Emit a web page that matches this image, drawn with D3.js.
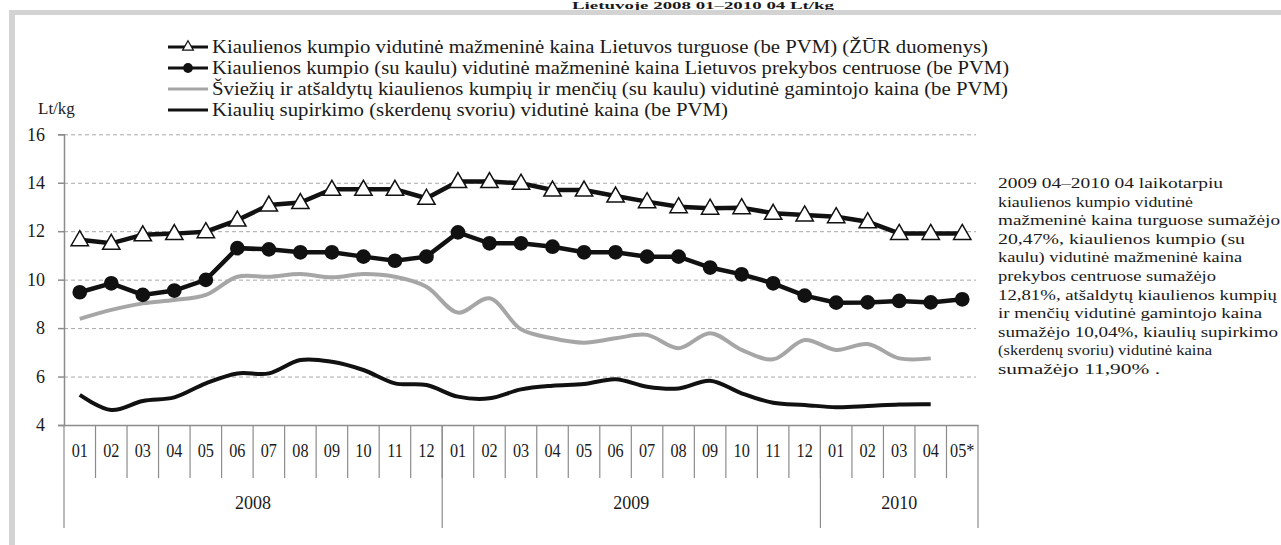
<!DOCTYPE html>
<html>
<head>
<meta charset="utf-8">
<script src="https://cdn.jsdelivr.net/npm/d3@7"></script>
<style>
  body { margin: 0; background: #fff; }
  svg { display: block; }
  svg text { font-family: "Liberation Serif", "Times New Roman", serif; }
</style>
</head>
<body>
<svg width="1281" height="545"></svg>
<script>
// month categories (2008 01 - 2010 05*)
const months = ["01","02","03","04","05","06","07","08","09","10","11","12",
                "01","02","03","04","05","06","07","08","09","10","11","12",
                "01","02","03","04","05*"];
const yearLabels = ["2008", "2009", "2010"];
const yearMonths = [12, 12, 5];
const yTicks = [4, 6, 8, 10, 12, 14, 16];

// Lt/kg
const turgus = [11.65, 11.5, 11.85, 11.9, 11.98, 12.46, 13.08, 13.18, 13.73, 13.73, 13.73, 13.36,
                14.05, 14.05, 13.98, 13.7, 13.7, 13.45, 13.22, 13.01, 12.95, 12.97, 12.74, 12.67,
                12.6, 12.39, 11.91, 11.91, 11.91];
const centrai = [9.48, 9.85, 9.37, 9.55, 9.99, 11.3, 11.25, 11.13, 11.13, 10.95, 10.78, 10.95,
                 11.95, 11.5, 11.5, 11.36, 11.13, 11.13, 10.95, 10.95, 10.5, 10.22, 9.85, 9.34,
                 9.05, 9.06, 9.12, 9.06, 9.19];
const gamintojo = [8.38, 8.75, 9.02, 9.16, 9.37, 10.12, 10.12, 10.23, 10.1, 10.23, 10.12, 9.71,
                   8.64, 9.23, 7.95, 7.58, 7.4, 7.58, 7.72, 7.17, 7.79, 7.1, 6.71, 7.51,
                   7.1, 7.34, 6.75, 6.75];
const supirkimo = [5.24, 4.62, 4.99, 5.14, 5.72, 6.13, 6.13, 6.68, 6.61, 6.27, 5.72, 5.65,
                   5.17, 5.1, 5.47, 5.62, 5.69, 5.89, 5.58, 5.51, 5.83, 5.31, 4.92, 4.83,
                   4.73, 4.78, 4.85, 4.86];

const legendLabels = [
  "Kiaulienos kumpio vidutinė mažmeninė kaina Lietuvos turguose (be PVM) (ŽŪR duomenys)",
  "Kiaulienos kumpio (su kaulu) vidutinė mažmeninė  kaina Lietuvos prekybos centruose (be PVM)",
  "Šviežių ir atšaldytų kiaulienos kumpių ir menčių (su kaulu) vidutinė gamintojo kaina (be PVM)",
  "Kiaulių supirkimo (skerdenų svoriu) vidutinė kaina (be PVM)"
];
const legendWidths = [776, 797, 796, 516];

const noteLines = [
  "2009 04–2010  04 laikotarpiu",
  "kiaulienos kumpio vidutinė",
  "mažmeninė kaina  turguose sumažėjo",
  "20,47%,  kiaulienos kumpio (su",
  "kaulu) vidutinė mažmeninė kaina",
  "prekybos centruose sumažėjo",
  "12,81%, atšaldytų kiaulienos kumpių",
  "ir menčių vidutinė gamintojo kaina",
  "sumažėjo 10,04%,   kiaulių supirkimo",
  "(skerdenų svoriu) vidutinė kaina",
  "sumažėjo 11,90% ."
];
const noteWidths = [225, 195, 282, 247, 244, 218, 279, 264, 280, 214, 162];

const svg = d3.select("svg");
const plotLeft = 64, plotRight = 978, plotTop = 134.3, plotBottom = 425;
const ink = "#1a1a1a", axisGrey = "#8c8c8c";

const x = d3.scaleBand().domain(d3.range(months.length)).range([plotLeft, plotRight]);
const y = d3.scaleLinear().domain([4, 16]).range([plotBottom, plotTop]);
const cx = (d, i) => x(i) + x.bandwidth() / 2;

// title (sits above the grey frame) and the frame itself
svg.append("text")
    .attr("x", 703).attr("y", 8.5)
    .attr("text-anchor", "middle")
    .attr("font-size", 11).attr("font-weight", "bold").attr("fill", ink)
    .attr("textLength", 262).attr("lengthAdjust", "spacingAndGlyphs")
    .text("Lietuvoje 2008 01–2010 04 Lt/kg");
svg.append("rect").attr("x", 9).attr("y", 10).attr("width", 1272).attr("height", 5).attr("fill", "#d3d3d3");
svg.append("rect").attr("x", 9).attr("y", 10).attr("width", 6).attr("height", 535).attr("fill", "#d3d3d3");

// gridlines
const grid = svg.append("g")
    .attr("transform", `translate(${plotLeft},0)`)
    .call(d3.axisLeft(y).tickValues(yTicks.slice(1)).tickSize(-(plotRight - plotLeft - 2)).tickFormat(""));
grid.select(".domain").remove();
grid.selectAll("line").attr("stroke", "#a8a8a8").attr("stroke-dasharray", "4,3");

// y axis
const yAxis = svg.append("g")
    .attr("transform", `translate(${plotLeft},0)`)
    .call(d3.axisLeft(y).tickValues(yTicks).tickSize(6).tickPadding(13));
yAxis.attr("font-family", null);
yAxis.select(".domain").attr("stroke", axisGrey).attr("stroke-width", 1.5);
yAxis.selectAll("line").attr("stroke", axisGrey).attr("stroke-width", 1.5);
yAxis.selectAll("text").attr("font-size", 18).attr("fill", ink);

svg.append("text")
    .attr("x", 38).attr("y", 114)
    .attr("font-size", 17).attr("fill", ink)
    .text("Lt/kg");

// x axis with month labels (slightly condensed, like the scan)
const xAxis = svg.append("g")
    .attr("transform", `translate(0,${plotBottom})`)
    .call(d3.axisBottom(x).tickSize(0).tickPadding(19).tickFormat((d) => months[d]));
xAxis.attr("font-family", null);
xAxis.select(".domain").attr("stroke", axisGrey).attr("stroke-width", 1.5);
xAxis.selectAll("text").attr("font-size", 18).attr("fill", ink)
    .attr("transform", "scale(0.9,1)");

// month dividers
svg.append("g").selectAll("line")
    .data(d3.range(1, months.length))
    .join("line")
    .attr("x1", (d) => x(d)).attr("x2", (d) => x(d))
    .attr("y1", plotBottom).attr("y2", 478)
    .attr("stroke", axisGrey).attr("stroke-width", 1.2);

// year dividers and labels
const yearStart = d3.cumsum([0].concat(yearMonths));
const xAt = (i) => (i < months.length ? x(i) : plotRight);
svg.append("g").selectAll("line")
    .data(yearStart)
    .join("line")
    .attr("x1", (d) => xAt(d)).attr("x2", (d) => xAt(d))
    .attr("y1", plotBottom).attr("y2", 528)
    .attr("stroke", axisGrey).attr("stroke-width", 1.2);
svg.append("g").selectAll("text")
    .data(yearLabels)
    .join("text")
    .attr("x", (d, i) => (xAt(yearStart[i]) + xAt(yearStart[i + 1])) / 2)
    .attr("y", 509)
    .attr("text-anchor", "middle")
    .attr("font-size", 18).attr("fill", ink)
    .text((d) => d);

// series lines
const smooth = d3.line().x(cx).y((d) => y(d)).curve(d3.curveCatmullRom.alpha(0.5));
const straight = d3.line().x(cx).y((d) => y(d));

svg.append("path").datum(gamintojo).attr("d", smooth)
    .attr("fill", "none").attr("stroke", "#a6a6a6").attr("stroke-width", 4);
svg.append("path").datum(supirkimo).attr("d", smooth)
    .attr("fill", "none").attr("stroke", "#111").attr("stroke-width", 4);
svg.append("path").datum(centrai).attr("d", straight)
    .attr("fill", "none").attr("stroke", "#111").attr("stroke-width", 4.5);
svg.append("path").datum(turgus).attr("d", straight)
    .attr("fill", "none").attr("stroke", "#111").attr("stroke-width", 4.5);

const tri = d3.symbol().type(d3.symbolTriangle).size(130);
const dot = d3.symbol().type(d3.symbolCircle).size(170);

svg.append("g").selectAll("path")
    .data(centrai)
    .join("path")
    .attr("transform", (d, i) => `translate(${cx(d, i)},${y(d)})`)
    .attr("d", dot)
    .attr("fill", "#111");
svg.append("g").selectAll("path")
    .data(turgus)
    .join("path")
    .attr("transform", (d, i) => `translate(${cx(d, i)},${y(d) + 1})`)
    .attr("d", tri)
    .attr("fill", "#fff").attr("stroke", "#111").attr("stroke-width", 1.5);

// legend
const legend = svg.append("g");
const rowY = (i) => 47 + i * 21;
legend.selectAll("line")
    .data(legendLabels)
    .join("line")
    .attr("x1", 168).attr("x2", 208)
    .attr("y1", (d, i) => rowY(i)).attr("y2", (d, i) => rowY(i))
    .attr("stroke", (d, i) => (i === 2 ? "#a6a6a6" : "#111"))
    .attr("stroke-width", 3);
legend.append("path")
    .attr("transform", `translate(188,${rowY(0)})`)
    .attr("d", d3.symbol().type(d3.symbolTriangle).size(50))
    .attr("fill", "#fff").attr("stroke", "#111").attr("stroke-width", 1.2);
legend.append("path")
    .attr("transform", `translate(188,${rowY(1)})`)
    .attr("d", d3.symbol().type(d3.symbolCircle).size(75))
    .attr("fill", "#111");
legend.selectAll("text")
    .data(legendLabels)
    .join("text")
    .attr("x", 212)
    .attr("y", (d, i) => rowY(i) + 6)
    .attr("font-size", 18).attr("fill", ink)
    .attr("textLength", (d, i) => legendWidths[i])
    .attr("lengthAdjust", "spacingAndGlyphs")
    .text((d) => d);

// note on the right
svg.append("g").selectAll("text")
    .data(noteLines)
    .join("text")
    .attr("x", 998)
    .attr("y", (d, i) => 188 + i * 18.6)
    .attr("font-size", 15.5).attr("fill", ink)
    .attr("textLength", (d, i) => noteWidths[i])
    .attr("lengthAdjust", "spacingAndGlyphs")
    .text((d) => d);
</script>
</body>
</html>
